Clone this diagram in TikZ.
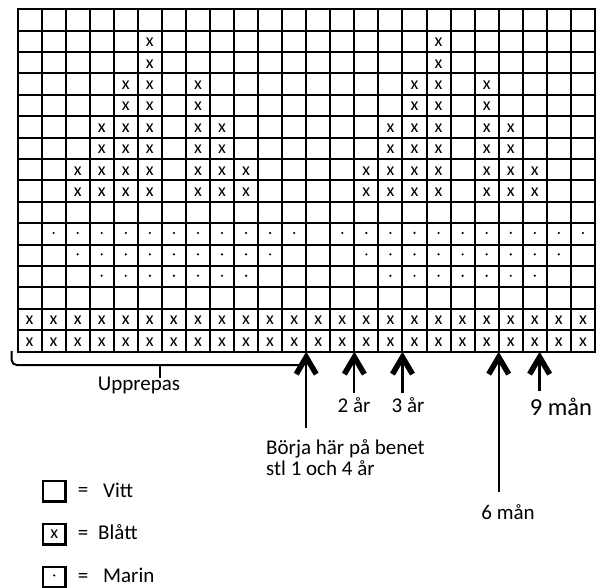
\documentclass[tikz,border=0pt]{standalone}
\usepackage{fontspec}
\setmainfont{Carlito}
\usetikzlibrary{arrows.meta}
\tikzset{cellx/.style={
    inner sep=0pt,
    font=\fontsize{18}{18}\selectfont
  },
  gridline/.style={line width=2pt,line cap=rect},
  lbl/.style={inner sep=0pt,font=\fontsize{21}{21}\selectfont},
  biglbl/.style={lbl,font=\fontsize{24.5}{24.5}\selectfont},
  legbox/.style={cellx,rectangle,draw,line width=2.4pt,
    minimum width=22.6pt,minimum height=20.3pt},
  arr/.style={line width=2.3pt,
    -{Straight Barb[length=17pt,width=20pt,line width=5.5pt]}},
}
\begin{document}
\begin{tikzpicture}[x=1pt,y=-1pt]
  \useasboundingbox (0,0) rectangle (599,587);
  \foreach \i in {0,...,24} {
    \pgfmathsetmacro\gx{round(17.5+24.06*\i)}
    \draw[gridline] (\gx,9) -- (\gx,352);
  }
  \foreach \j in {0,...,16} {
    \pgfmathsetmacro\gy{round(9.3+21.4*\j)}
    \draw[gridline] (18,\gy) -- (595,\gy);
  }
  \begin{scope}[shift={(17.5,9.3)},x=24.06pt,y=-21.4pt]
    \foreach \r/\c in {2/6,3/6,4/5,4/6,4/8,5/5,5/6,5/8,
        6/4,6/5,6/6,6/8,6/9,7/4,7/5,7/6,7/8,7/9,
        8/3,8/4,8/5,8/6,8/8,8/9,8/10,9/3,9/4,9/5,9/6,9/8,9/9,9/10}
      \foreach \o in {0,12} {
        \pgfmathtruncatemacro\cc{\c+\o}
        \node[cellx] (x-\r-\cc) at (\cc-0.5,\r-0.45) {x};
      }
    \foreach \r in {15,16}
      \foreach \c in {1,...,24}
        \node[cellx] (x-\r-\c) at (\c-0.5,\r-0.45) {x};
    \foreach \r/\a/\b in {11/2/12,12/3/11,13/4/10}
      \foreach \o in {0,12}
        \foreach \c in {\a,...,\b}
          \fill (\c+\o-0.5,\r-0.55) circle (1.2pt);
    \coordinate (p-start) at (12,16);
    \coordinate (p-2) at (14,16);
    \coordinate (p-3) at (16,16);
    \coordinate (p-6) at (20,16);
    \coordinate (p-9) at (21.7,16);
  \end{scope}

  \node[lbl] (upprepas) at (139,385) {Upprepas};
  \node[lbl,anchor=west,align=left] (borja) at (266,458) {Börja här på benet\\stl 1 och 4 år};
  \node[lbl] (ar2) at (354,405) {2 år};
  \node[lbl] (ar3) at (408,405) {3 år};
  \node[lbl] (man6) at (508,512) {6 mån};
  \node[biglbl] (man9) at (561,407) {9 mån};

  \draw[line width=2pt,rounded corners=5pt] (11.7,351) -- (11.7,365) -- (299,365);
  \draw[line width=2.4pt] (160,365) -- (160,378);

  \draw[arr,shorten <=12pt] (borja.north -| p-start) -- (p-start);
  \draw[arr,shorten <=4pt] (ar2.north -| p-2) -- (p-2);
  \draw[arr,shorten <=4pt] (ar3.north -| p-3) -- (p-3);
  \draw[arr,shorten <=12pt] (man6.north -| p-6) -- (p-6);
  \draw[arr,shorten <=7pt] (man9.north -| p-9) -- (p-9);

  \node[legbox] (vitt) at (54.2,491.4) {};
  \node[lbl] (vitt-eq) at (83,491.5) {=};
  \node[lbl,anchor=west] (vitt-txt) at (103,490.5) {Vitt};
  \node[legbox] (blatt) at (54.2,534.4) {x};
  \node[lbl] (blatt-eq) at (83,534.5) {=};
  \node[lbl,anchor=west] (blatt-txt) at (98,532.5) {Blått};
  \node[legbox] (marin) at (54.2,577.4) {};
  \fill ([yshift=2pt]marin.center) circle (1.2pt);
  \node[lbl] (marin-eq) at (83,577.5) {=};
  \node[lbl,anchor=west] (marin-txt) at (103,575.5) {Marin};
\end{tikzpicture}
\end{document}
